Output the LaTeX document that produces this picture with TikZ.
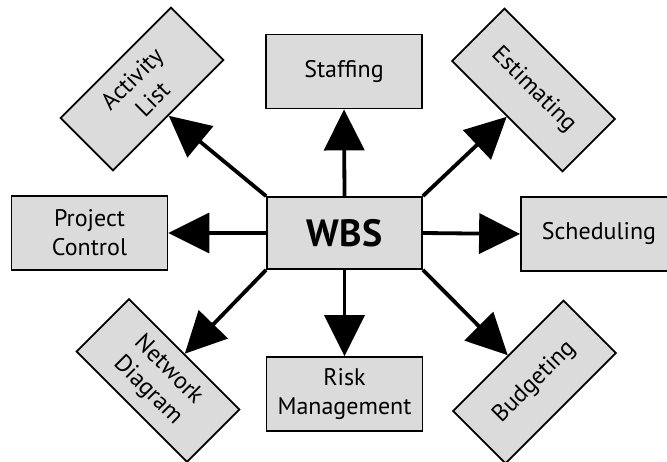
\documentclass[tikz,border=0pt]{standalone}
\usepackage{fontspec}
\setmainfont{PT Sans}
\usetikzlibrary{arrows.meta}

\tikzset{
  task/.style={draw=black, line width=1.8pt, fill=black!14,
    minimum width=156pt, minimum height=74pt, inner sep=2pt,
    align=center, font=\fontsize{24}{29}\selectfont},
  hub/.style={task, minimum width=155pt, minimum height=72pt,
    font=\fontsize{38}{40}\selectfont\bfseries},
  link/.style={line width=3.8pt,
    -{Triangle[length=41pt,width=40pt]}}
}

\begin{document}
\begin{tikzpicture}[x=1pt,y=1pt]
  \useasboundingbox (0,0) rectangle (667,461);

  % central node
  \node[hub] (wbs) at (344.5,228) {WBS};

  % surrounding activities
  \node[task] (staff) at (344,389.5) {Staffing};
  \node[task] (pc)    at (89.5,228)  {Project\\Control};
  \node[task] (sched) at (599,227)   {Scheduling};
  \node[task] (risk)  at (344.5,67)  {Risk\\Management};
  \node[task, rotate=45]  (act)  at (142,372)   {Activity\\List};
  \node[task, rotate=-45] (est)  at (533.5,371) {Estimating};
  \node[task, rotate=-45] (net)  at (158,80.5)  {Network\\Diagram};
  \node[task, rotate=45]  (bud)  at (534.5,79)  {Budgeting};

  % connectors
  \draw[link] (wbs.north)      -- (staff.south);
  \draw[link] (wbs.south)      -- (risk.north);
  \draw[link] (wbs.west)       -- (pc.east);
  \draw[link] (wbs.east)       -- (sched.west);
  \draw[link] (wbs.north west) -- (act.south);
  \draw[link] (wbs.north east) -- (est.south);
  \draw[link] (wbs.south west) -- (net.north);
  \draw[link] (wbs.south east) -- (bud.north);
\end{tikzpicture}
\end{document}
